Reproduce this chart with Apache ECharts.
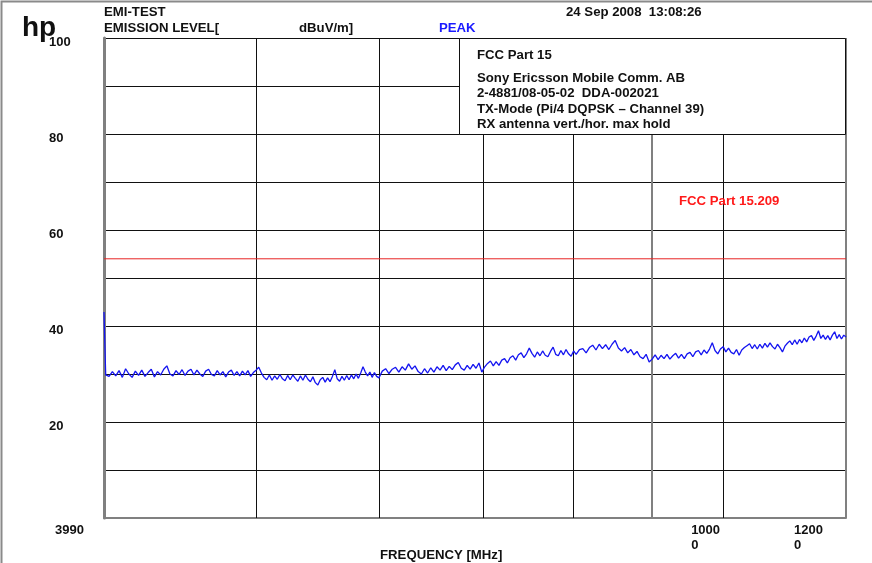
<!DOCTYPE html>
<html><head><meta charset="utf-8">
<script src="https://cdn.jsdelivr.net/npm/echarts@6/dist/echarts.min.js"></script>
<style>html,body{margin:0;padding:0;background:#fff}#c{width:872px;height:563px}</style>
</head><body><div id="c"></div>
<script>
// ---------- DATA ----------
const freqMHz = [
  3990, 4000,
  4020, 4040, 4060, 4080, 4100, 4120, 4140, 4160, 4180, 4200,
  4220, 4240, 4260, 4280, 4300, 4320, 4340, 4360, 4380, 4400,
  4420, 4440, 4460, 4480, 4500, 4520, 4540, 4560, 4580, 4600,
  4620, 4640, 4660, 4680, 4700, 4720, 4740, 4760, 4780, 4800,
  4820, 4840, 4860, 4880, 4900, 4920, 4940, 4960, 4980, 5000,
  5020, 5040, 5060, 5080, 5100, 5120, 5140, 5160, 5180, 5200,
  5220, 5240, 5260, 5280, 5300, 5320, 5340, 5360, 5380, 5400,
  5420, 5440, 5460, 5480, 5500, 5520, 5540, 5560, 5580, 5600,
  5620, 5640, 5660, 5680, 5700, 5720, 5740, 5760, 5780, 5800,
  5820, 5840, 5860, 5880, 5900, 5920, 5940, 5960, 5980, 6000,
  6030, 6060, 6090, 6120, 6150, 6180, 6210, 6240, 6270, 6300,
  6330, 6360, 6390, 6420, 6450, 6480, 6510, 6540, 6570, 6600,
  6630, 6660, 6690, 6720, 6750, 6780, 6810, 6840, 6870, 6900,
  6930, 6960, 6990, 7020, 7050, 7080, 7110, 7140, 7170, 7200,
  7230, 7260, 7290, 7320, 7350, 7380, 7410, 7440, 7470, 7500,
  7530, 7560, 7590, 7620, 7650, 7680, 7710, 7740, 7770, 7800,
  7830, 7860, 7890, 7920, 7950, 7980, 8010,
  8040, 8080, 8120, 8160, 8200, 8240, 8280, 8320, 8360, 8400,
  8440, 8480, 8520, 8560, 8600, 8640, 8680, 8720, 8760, 8800,
  8840, 8880, 8920, 8960, 9000, 9040, 9080, 9120, 9160, 9200,
  9240, 9280, 9320, 9360, 9400, 9440, 9480, 9520, 9560, 9600,
  9640, 9680, 9720, 9760, 9800, 9840, 9880, 9920, 9960, 10000,
  10040, 10080, 10120, 10160, 10200, 10240, 10280, 10320, 10360, 10400,
  10440, 10480, 10520, 10560, 10600, 10640, 10680, 10720, 10760, 10800,
  10840, 10880, 10920, 10960, 11000, 11040, 11080, 11120, 11160, 11200,
  11240, 11280, 11320, 11360, 11400, 11440, 11480, 11520, 11560, 11600,
  11640, 11680, 11720, 11760, 11800, 11840, 11880, 11920, 11960, 12000
];
const levelDbuvPerM = [
  42.9, 29.8,
  29.5, 30.5, 29.6, 30.7, 29.3, 31.1, 30.0, 29.3, 30.6, 29.7,
  30.8, 29.5, 30.3, 31.0, 29.4, 30.5, 29.8, 31.0, 31.7, 30.0,
  29.6, 30.7, 29.9, 30.9, 29.7, 30.6, 31.0, 29.8, 30.8, 30.0,
  29.5, 30.6, 31.0, 29.9, 29.6, 30.7, 29.8, 30.5, 29.4, 30.4,
  30.8, 29.7, 30.5, 29.6, 30.6, 29.8, 30.7, 29.5, 30.3, 30.8,
  31.4, 30.2, 29.3, 28.8, 29.8, 28.7, 29.6, 28.9, 29.9, 29.0,
  28.6, 29.7, 28.8, 29.8, 29.1, 28.5, 29.6, 28.7, 29.8, 28.9,
  28.4, 29.4, 28.2, 27.7, 28.8, 29.3, 28.3, 29.2, 28.4, 29.5,
  30.9, 29.0, 28.5, 29.5, 28.7, 29.7, 28.8, 29.8, 29.0, 30.0,
  29.1, 30.2, 31.5, 30.4, 29.6, 30.4, 29.3, 30.3, 29.5, 29.2,
  30.6, 31.1, 30.1, 31.0, 31.4, 30.4, 31.5, 30.8, 32.1, 31.0,
  31.7, 30.5, 30.0, 31.1, 30.2, 31.3, 30.4, 31.5, 30.8, 31.8,
  30.7, 31.6, 30.9, 31.9, 32.4, 31.2, 30.8, 31.8, 31.0, 32.0,
  31.2, 32.3, 30.4, 31.5, 32.2, 32.7, 31.7, 32.6, 31.8, 32.9,
  33.2, 32.3, 33.4, 33.8, 32.9, 34.0, 34.4, 33.4, 34.2, 35.4,
  34.3, 33.5, 34.6, 33.8, 34.8, 33.9, 33.6, 34.7, 35.6, 34.1,
  33.8, 34.9, 34.0, 35.1, 34.2, 33.7, 34.8,
  34.1, 35.1, 35.3, 34.4, 35.5, 36.0, 35.0, 36.2, 35.3, 36.1,
  35.1, 36.2, 37.0, 35.4, 34.8, 35.5, 34.4, 35.1, 34.0, 34.7,
  33.6, 33.2, 34.1, 32.5, 33.1, 34.0, 33.0, 33.9, 33.2, 34.1,
  33.1, 33.8, 34.3, 33.3, 34.1, 33.2, 34.2, 34.5, 33.6, 34.6,
  34.9, 34.0, 35.0, 34.3, 35.2, 36.5, 34.9, 34.2, 35.2, 35.7,
  34.6, 35.4, 34.5, 34.2, 35.1, 33.9, 35.0, 35.5, 35.9, 36.3,
  35.3, 36.1, 35.2, 36.2, 35.4, 36.4, 35.6, 36.5, 35.7, 35.2,
  36.2, 35.5, 34.6, 35.8, 36.4, 36.9, 36.1, 37.1, 36.2, 37.2,
  36.5, 37.5, 36.7, 37.7, 38.0, 37.0, 37.9, 39.0, 37.4, 38.1,
  37.2, 38.0, 37.1, 38.1, 38.8, 37.4, 38.2, 37.3, 38.1, 37.7
];
const limitFreqMHz = [3990, 12000];
const limitLevel = [54, 54];
const xGridFreqs = [5000, 6000, 7000, 8000, 9000, 10000, 12000];
const xTickValues = [3990, 10000, 12000];
const xTickLabels = ['3990', '10000', '12000'];
const yTickLabels = [20, 40, 60, 80, 100];

// ---------- STYLE / LAYOUT ----------
const FAM = '"Liberation Sans", Arial, Helvetica, sans-serif';
const B13 = 'bold 13.2px ' + FAM;
const xTickDx = [-49, -32, -52];
const grayEdge = new Set([9000, 12000]);

const chart = echarts.init(document.getElementById('c'), null, {renderer: 'canvas'});

function txt(text, x, y, font, fill, z) {
  return {type: 'text', x: x, y: y, z: z || 50, silent: true,
    style: {text: text, font: font, fill: fill || '#111', align: 'left', verticalAlign: 'middle'}};
}

const option = {
  animation: false,
  backgroundColor: '#fff',
  grid: {left: 104, right: 26, top: 38, bottom: 45, show: false},
  xAxis: {
    type: 'log', logBase: 10, min: 3990, max: 12000,
    axisLine: {show: true, onZero: false, lineStyle: {color: '#808080', width: 2}},
    axisTick: {show: false}, axisLabel: {show: false},
    splitLine: {show: false}, minorTick: {show: false}, minorSplitLine: {show: false}
  },
  yAxis: {
    type: 'value', min: 0, max: 100, interval: 10,
    axisLine: {show: true, lineStyle: {color: '#808080', width: 3}},
    axisTick: {show: false},
    splitLine: {show: true, lineStyle: {color: '#111', width: 1}},
    axisLabel: {show: false}
  },
  series: [
    {
      type: 'line', name: 'PEAK',
      data: freqMHz.map((f, i) => [f, levelDbuvPerM[i]]),
      showSymbol: false, symbol: 'none', z: 6,
      lineStyle: {color: '#1414f0', width: 1.3},
      markLine: {
        silent: true, symbol: ['none', 'none'], label: {show: false}, z: 3, animation: false,
        data: xGridFreqs.map(f => ({xAxis: f,
          lineStyle: {type: 'solid', color: grayEdge.has(f) ? '#808080' : '#111', width: grayEdge.has(f) ? 2 : 1}}))
      }
    },
    {
      type: 'line', name: 'FCC Part 15.209',
      data: limitFreqMHz.map((f, i) => [f, limitLevel[i]]),
      showSymbol: false, symbol: 'none', z: 5,
      lineStyle: {color: '#e82424', width: 1}
    }
  ],
  graphic: []
};
chart.setOption(option);

const g = [
  {type: 'rect', silent: true, z: 200, shape: {x: 1.5, y: 1.5, width: 900, height: 600},
    style: {fill: 'none', stroke: '#8a8a8a', lineWidth: 2}},
  txt('hp', 22, 28, 'bold 28px ' + FAM),
  txt('EMI-TEST', 104, 12.5, B13),
  txt('EMISSION LEVEL[', 104, 28.5, B13),
  txt('dBuV/m]', 299, 28.5, B13),
  txt('PEAK', 439, 28.5, B13, '#1a1aff'),
  txt('24 Sep 2008  13:08:26', 566, 12.5, B13),
  {type: 'rect', silent: true, z: 100, shape: {x: 459.5, y: 38.5, width: 386, height: 96},
    style: {fill: '#fff', stroke: '#111', lineWidth: 1}},
  txt('FCC Part 15', 477, 55, B13, '#111', 101),
  txt('Sony Ericsson Mobile Comm. AB', 477, 78.5, B13, '#111', 101),
  txt('2-4881/08-05-02  DDA-002021', 477, 93, B13, '#111', 101),
  txt('TX-Mode (Pi/4 DQPSK \u2013 Channel 39)', 477, 109, B13, '#111', 101),
  txt('RX antenna vert./hor. max hold', 477, 124, B13, '#111', 101),
  txt('FCC Part 15.209', 679, 201, B13, '#ff1a1a'),
  txt('FREQUENCY [MHz]', 380, 555, B13)
];
yTickLabels.forEach(v => {
  const py = chart.convertToPixel({yAxisIndex: 0}, v);
  g.push(txt(String(v), 49, py + 4.5, 'bold 13px ' + FAM));
});
xTickValues.forEach((v, i) => {
  const px = chart.convertToPixel({xAxisIndex: 0}, v);
  const lbl = xTickLabels[i].match(/.{1,4}/g).join('\n');
  g.push({type: 'text', silent: true, z: 50, x: px + xTickDx[i], y: 522.5,
    style: {text: lbl, font: 'bold 13px ' + FAM, fill: '#111', align: 'left', verticalAlign: 'top', lineHeight: 15}});
});
chart.setOption({graphic: g});
</script>
</body></html>
